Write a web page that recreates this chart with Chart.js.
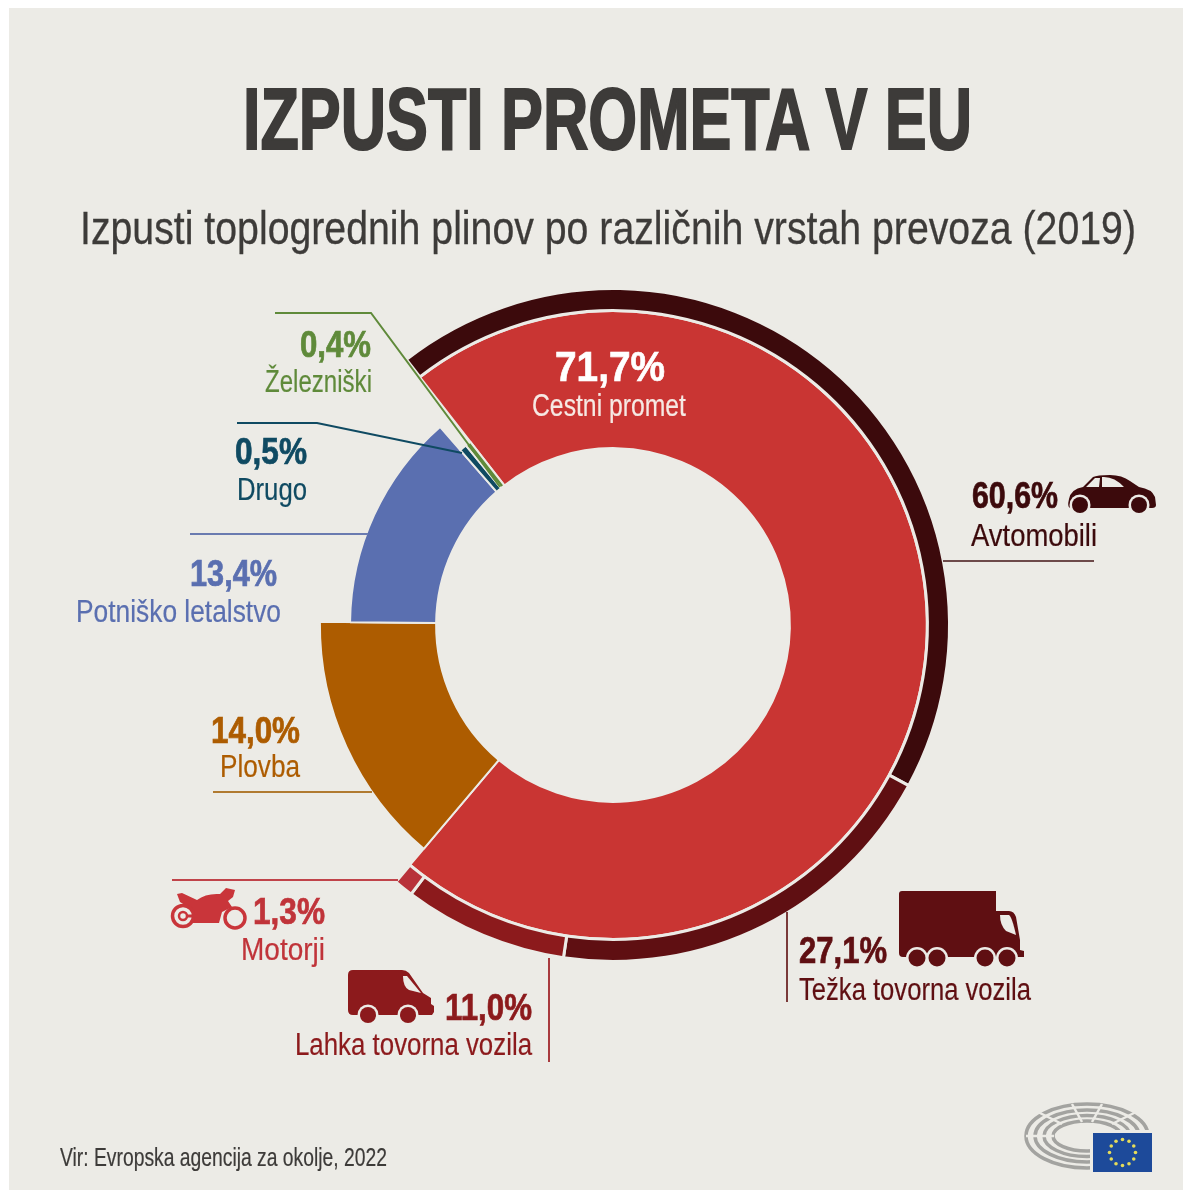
<!DOCTYPE html>
<html lang="sl">
<head>
<meta charset="utf-8">
<title>Izpusti prometa v EU</title>
<script src="https://cdn.jsdelivr.net/npm/chart.js@4"></script>
<style>
html,body{margin:0;padding:0;background:#fff;width:1183px;height:1199px;overflow:hidden}
#stage{position:absolute;left:0;top:0;width:1183px;height:1199px;filter:blur(0.6px)}
#panel{position:absolute;left:9px;top:8px;width:1174px;height:1182px;background:#ecebe6}
#c{position:absolute;left:0;top:0}
#art{position:absolute;left:0;top:0}
.t{position:absolute;white-space:nowrap;line-height:normal;transform-origin:0 0;font-family:"Liberation Sans Narrow","Liberation Sans",sans-serif}
</style>
</head>
<body>
<div id="stage">
<div id="panel"></div>
<canvas id="c" width="1183" height="1199"></canvas>
<svg id="art" width="1183" height="1199" viewBox="0 0 1183 1199" xmlns="http://www.w3.org/2000/svg">
  <!-- car -->
  <g fill="#3c0a0c">
    <path d="M1069,499 Q1071,489 1083,487 L1093,477 Q1097,475 1110,475 Q1122,475 1130,481 L1139,487 Q1152,489 1155,497 L1156,505 Q1156,508 1152,508 L1070,508 Q1067,507 1069,499Z"/>
    <path fill="#ecebe6" d="M1086,487 L1095,478 L1100,478 L1099,487Z M1102,477 Q1114,476 1124,487 L1102,487Z"/>
    <circle cx="1080" cy="505" r="10.5" fill="#ecebe6"/><circle cx="1080" cy="505" r="8"/>
    <circle cx="1139" cy="505" r="10.5" fill="#ecebe6"/><circle cx="1139" cy="505" r="8"/>
  </g>
  <!-- truck -->
  <g fill="#5f0f12">
    <path d="M902,891 L996,891 L996,911 L1009,911 Q1014,911 1016,917 L1020,940 L1020,950 L1024,951 L1024,957 L903,957 Q899,957 899,953 L899,894 Q899,891 902,891Z"/>
    <path fill="#ecebe6" d="M1000,915 L1009,915 Q1012,917 1016,935 L1006,931 Q1000,925 1000,915Z"/>
    <g fill="#ecebe6"><circle cx="917" cy="958" r="11"/><circle cx="937" cy="958" r="11"/><circle cx="985" cy="958" r="11"/><circle cx="1007" cy="958" r="11"/></g>
    <circle cx="917" cy="958" r="8.5"/><circle cx="937" cy="958" r="8.5"/><circle cx="985" cy="958" r="8.5"/><circle cx="1007" cy="958" r="8.5"/>
  </g>
  <!-- van -->
  <g fill="#8c1a1c">
    <path d="M353,970 L402,970 Q406,970 409,973 L423,993 L431,998 L431,1004 L434,1006 L434,1012 L432,1015 L353,1015 Q348,1015 348,1010 L348,975 Q348,970 353,970Z"/>
    <path fill="#ecebe6" d="M403,976 L407,976 L421,993 L409,990 Q403,987 403,976Z"/>
    <circle cx="368" cy="1015" r="10.5" fill="#ecebe6"/><circle cx="368" cy="1015" r="8"/>
    <circle cx="408" cy="1015" r="10.5" fill="#ecebe6"/><circle cx="408" cy="1015" r="8"/>
  </g>
  <!-- motorcycle -->
  <g fill="#c9353a">
    <path d="M177,894 L182,893 L197,900 Q206,893 220,894 L226,888 L235,890 L233,897 L228,901 L232,907 L222,912 L219,923 L190,923 L196,916 L188,907 L180,902Z"/>
    <circle cx="183" cy="916" r="10.5" fill="#ecebe6" stroke="#c9353a" stroke-width="3.5"/>
    <path d="M183,914.5 H198 V917.5 H183Z"/>
    <circle cx="183" cy="916" r="4" fill="#ecebe6" stroke="#c9353a" stroke-width="2.5"/>
    <circle cx="235" cy="918" r="10" fill="#ecebe6" stroke="#c9353a" stroke-width="3.5"/>
  </g>
  <!-- parliament logo -->
  <g id="logo" fill="none" stroke="#a3a3a0">
    <ellipse cx="1087" cy="1136" rx="61" ry="32" stroke-width="3.5"/>
    <ellipse cx="1087" cy="1136" rx="52" ry="26" stroke-width="3.5"/>
    <ellipse cx="1087" cy="1136" rx="43" ry="20.5" stroke-width="3.5"/>
    <ellipse cx="1087" cy="1136" rx="34" ry="15" stroke-width="3.5"/>
    <path d="M1072,1104 L1082,1122 M1102,1104 L1092,1122 M1038,1112 L1062,1124 M1136,1112 L1112,1124 M1026,1136 L1054,1136" stroke="#ecebe6" stroke-width="2.5"/>
  </g>
  <rect x="1090" y="1130" width="65" height="45" fill="#ecebe6"/>
  <rect x="1093" y="1133" width="59" height="39" fill="#1d4a9a"/>
  <g id="stars" fill="#e6dc5a"></g>
</svg>
</div>
<script>
// ---- data ----
const categories = ['Cestni promet', 'Plovba', 'Potniško letalstvo', 'Drugo', 'Železniški'];
const shares = [71.7, 14.0, 13.4, 0.5, 0.4];
const roadCategories = ['Avtomobili', 'Težka tovorna vozila', 'Lahka tovorna vozila', 'Motorji'];
const roadShares = [60.6, 27.1, 11.0, 1.3];

// ---- styling ----
const mainColors = ['#c93533', '#ad5c00', '#5a6fb0', '#0f4a62', '#5f8a3a'];
const roadColors = ['#3c0a0c', '#5f0f12', '#8c1a1c', '#b8323a'];
const bg = '#ecebe6';
const mainOuter = [0.934, 0.872, 0.782, 0.69, 0.69];
const mainInner = 0.531;
const roadOuter = 1, roadInner = 0.943;
const startAngle = -37.9;

const pct = v => v.toFixed(1).replace('.', ',') + '%';

// leader lines: colour, polyline
const leaders = [
  ['#5f8a3a', [[275,313],[371,313],[500,487]]],
  ['#0f4a62', [[237,423],[317,423],[462,453]]],
  ['#6a7bb0', [[190,534],[368,534]]],
  ['#b07a30', [[213,792],[372,792]]],
  ['#c0434a', [[172,880],[398,880]]],
  ['#a83a3e', [[549,958],[549,1062]]],
  ['#7a3a3a', [[787,912],[787,1002]]],
  ['#6d4a4a', [[943,561],[1094,561]]]
];

const ringPlugin = {
  id: 'rings',
  beforeDatasetsDraw(chart) {
    const R = Math.min(chart.chartArea.width, chart.chartArea.height) / 2;
    chart.data.datasets.forEach((ds, di) => {
      chart.getDatasetMeta(di).data.forEach((arc, i) => {
        const bw = ds.borderWidth;
        arc.outerRadius = ds.ringOuter[i] * R + bw / 2;
        arc.innerRadius = ds.ringInner * R - bw / 2;
      });
    });
  }
};
const leaderPlugin = {
  id: 'leaders',
  afterDatasetsDraw(chart) {
    const ctx = chart.ctx;
    ctx.save();
    ctx.lineWidth = 2;
    leaders.forEach(([col, pts]) => {
      ctx.strokeStyle = col;
      ctx.beginPath();
      pts.forEach((p, i) => i ? ctx.lineTo(p[0], p[1]) : ctx.moveTo(p[0], p[1]));
      ctx.stroke();
    });
    ctx.restore();
  }
};

const roadOnly = roadShares.map(s => s * shares[0] / 100);
const restShare = 100 - shares[0];

new Chart(document.getElementById('c'), {
  type: 'doughnut',
  data: {
    labels: categories,
    datasets: [
      {
        label: 'Cestni promet po vozilih',
        data: [...roadOnly, restShare],
        backgroundColor: [...roadColors, 'rgba(0,0,0,0)'],
        borderColor: [bg, bg, bg, bg, 'rgba(0,0,0,0)'],
        borderWidth: 3,
        ringOuter: [roadOuter, roadOuter, roadOuter, roadOuter, roadOuter],
        ringInner: roadInner
      },
      {
        label: 'Izpusti',
        data: shares,
        backgroundColor: mainColors,
        borderColor: bg,
        borderWidth: 2,
        ringOuter: mainOuter,
        ringInner: mainInner
      }
    ]
  },
  options: {
    responsive: false,
    animation: false,
    events: [],
    rotation: startAngle,
    layout: { padding: { left: 278, right: 235, top: 290, bottom: 239 } },
    plugins: { legend: { display: false }, tooltip: { enabled: false }, title: { display: false } }
  },
  plugins: [ringPlugin, leaderPlugin]
});

// ---- stars of the flag ----
const starG = document.getElementById('stars');
for (let i = 0; i < 12; i++) {
  const a = i * Math.PI / 6;
  const s = document.createElementNS('http://www.w3.org/2000/svg', 'circle');
  s.setAttribute('cx', 1122.5 + 13 * Math.cos(a));
  s.setAttribute('cy', 1152.5 + 13 * Math.sin(a));
  s.setAttribute('r', 1.8);
  starG.appendChild(s);
}

// ---- text: [text, left, right, baseline, size, weight, colour, stroke] ----
const dark = '#3d3b39';
const texts = [
  ['IZPUSTI PROMETA V EU', 243, 972, 148, 88, 700, dark, 2],
  ['Izpusti toplogrednih plinov po različnih vrstah prevoza (2019)', 80, 1136, 243, 47, 400, dark, 0.3],
  [pct(shares[0]), 555, 665, 381, 43, 700, '#ffffff', 0.7],
  [categories[0], 532, 686, 416, 31, 400, '#f6e9e4', 0.2],
  [pct(shares[4]), 300, 371, 357, 36, 700, '#5f8a3a', 0.7],
  [categories[4], 265, 372, 392, 31, 400, '#5f8a3a', 0.2],
  [pct(shares[3]), 235, 307, 464, 36, 700, '#0f4a62', 0.7],
  [categories[3], 237, 307, 500, 31, 400, '#0f4a62', 0.2],
  [pct(shares[2]), 190, 277, 586, 36, 700, '#5a6fb0', 0.7],
  [categories[2], 76, 281, 622, 31, 400, '#5a6fb0', 0.2],
  [pct(shares[1]), 211, 300, 743, 36, 700, '#ad5c00', 0.7],
  [categories[1], 220, 300, 777, 31, 400, '#ad5c00', 0.2],
  [pct(roadShares[3]), 253, 325, 924, 36, 700, '#c0343a', 0.7],
  [roadCategories[3], 241, 325, 960, 31, 400, '#c0343a', 0.2],
  [pct(roadShares[2]), 445, 532, 1020, 36, 700, '#8c1a1c', 0.7],
  [roadCategories[2], 295, 532, 1055, 31, 400, '#8c1a1c', 0.2],
  [pct(roadShares[1]), 799, 887, 963, 36, 700, '#5f0f12', 0.7],
  [roadCategories[1], 799, 1031, 1000, 31, 400, '#5f0f12', 0.2],
  [pct(roadShares[0]), 972, 1058, 508, 36, 700, '#3c0a0c', 0.7],
  [roadCategories[0], 971, 1097, 546, 31, 400, '#3c0a0c', 0.2],
  ['Vir: Evropska agencija za okolje, 2022', 60, 387, 1166, 25, 400, dark, 0.2]
];
const stage = document.getElementById('stage');
const mctx = document.createElement('canvas').getContext('2d');
const family = '"Liberation Sans Narrow","Liberation Sans",sans-serif';
texts.forEach(([txt, l, r, base, size, weight, col, stroke]) => {
  const el = document.createElement('div');
  el.className = 't';
  el.textContent = txt;
  el.style.fontSize = size + 'px';
  el.style.fontWeight = weight;
  el.style.color = col;
  el.style.webkitTextStroke = stroke + 'px ' + col;
  stage.appendChild(el);
  mctx.font = `${weight} ${size}px ${family}`;
  const asc = mctx.measureText(txt).fontBoundingBoxAscent;
  const w = el.getBoundingClientRect().width;
  el.style.left = l + 'px';
  el.style.top = (base - asc) + 'px';
  el.style.transform = `scaleX(${(r - l) / w})`;
});
</script>
</body>
</html>
